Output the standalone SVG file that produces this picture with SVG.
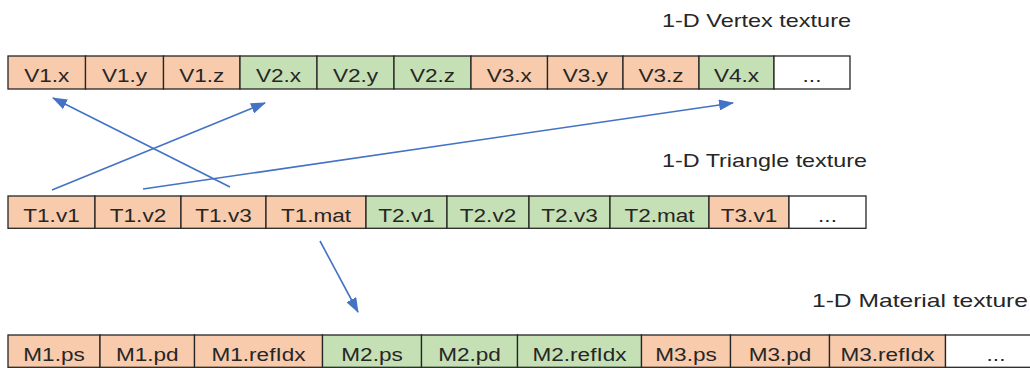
<svg xmlns="http://www.w3.org/2000/svg" width="1030" height="368" viewBox="0 0 1030 368">
<style>
.o{fill:#F8CBAD;stroke:#262626;stroke-width:1.3}
.g{fill:#C5E0B4;stroke:#262626;stroke-width:1.3}
.w{fill:#FFFFFF;stroke:#262626;stroke-width:1.3}
text{font-family:"Liberation Sans",Arial,sans-serif;font-size:18.5px;fill:#262626}
.c{text-anchor:middle}
.t{font-size:18.5px;fill:#262626}
.arr{stroke:#4472C4;stroke-width:1.6;fill:none;marker-end:url(#ah)}
</style>
<defs>
<marker id="ah" markerUnits="userSpaceOnUse" markerWidth="15" markerHeight="11" refX="14" refY="5.5" orient="auto" viewBox="0 0 15 11">
<path d="M0,0 L15,5.5 L0,11 z" fill="#4472C4"/>
</marker>
</defs>
<rect width="1030" height="368" fill="#FFFFFF"/>

<g id="vertex-title"><text class="t" x="662" y="27" textLength="189" lengthAdjust="spacingAndGlyphs">1-D Vertex texture</text></g>
<g id="triangle-title"><text class="t" x="662" y="167" textLength="205" lengthAdjust="spacingAndGlyphs">1-D Triangle texture</text></g>
<g id="material-title"><text class="t" x="812" y="307" textLength="216" lengthAdjust="spacingAndGlyphs">1-D Material texture</text></g>

<g id="vertex-texture">
<g id="V1x"><rect class="o" x="8" y="56" width="77.5" height="33"/><text class="c" transform="translate(46.8,81.7) scale(1.22,1)">V1.x</text></g>
<g id="V1y"><rect class="o" x="85.5" y="56" width="78" height="33"/><text class="c" transform="translate(124.5,81.7) scale(1.22,1)">V1.y</text></g>
<g id="V1z"><rect class="o" x="163.5" y="56" width="76.5" height="33"/><text class="c" transform="translate(201.8,81.7) scale(1.22,1)">V1.z</text></g>
<g id="V2x"><rect class="g" x="240" y="56" width="77" height="33"/><text class="c" transform="translate(278.5,81.7) scale(1.22,1)">V2.x</text></g>
<g id="V2y"><rect class="g" x="317" y="56" width="77" height="33"/><text class="c" transform="translate(355.5,81.7) scale(1.22,1)">V2.y</text></g>
<g id="V2z"><rect class="g" x="394" y="56" width="77" height="33"/><text class="c" transform="translate(432.5,81.7) scale(1.22,1)">V2.z</text></g>
<g id="V3x"><rect class="o" x="471" y="56" width="76.5" height="33"/><text class="c" transform="translate(509.3,81.7) scale(1.22,1)">V3.x</text></g>
<g id="V3y"><rect class="o" x="547.5" y="56" width="75.5" height="33"/><text class="c" transform="translate(585.3,81.7) scale(1.22,1)">V3.y</text></g>
<g id="V3z"><rect class="o" x="623" y="56" width="76" height="33"/><text class="c" transform="translate(661,81.7) scale(1.22,1)">V3.z</text></g>
<g id="V4x"><rect class="g" x="699" y="56" width="75" height="33"/><text class="c" transform="translate(736.5,81.7) scale(1.22,1)">V4.x</text></g>
<g id="Vmore"><rect class="w" x="774" y="56" width="76" height="33"/><text class="c" transform="translate(812,81.7) scale(1.22,1)">...</text></g>
</g>

<g id="triangle-texture">
<g id="T1v1"><rect class="o" x="8" y="196" width="87" height="32.3"/><text class="c" transform="translate(51.5,221.7) scale(1.22,1)">T1.v1</text></g>
<g id="T1v2"><rect class="o" x="95" y="196" width="86" height="32.3"/><text class="c" transform="translate(138,221.7) scale(1.22,1)">T1.v2</text></g>
<g id="T1v3"><rect class="o" x="181" y="196" width="85" height="32.3"/><text class="c" transform="translate(223.5,221.7) scale(1.22,1)">T1.v3</text></g>
<g id="T1mat"><rect class="o" x="266" y="196" width="100" height="32.3"/><text class="c" transform="translate(316,221.7) scale(1.22,1)">T1.mat</text></g>
<g id="T2v1"><rect class="g" x="366" y="196" width="81" height="32.3"/><text class="c" transform="translate(406.5,221.7) scale(1.22,1)">T2.v1</text></g>
<g id="T2v2"><rect class="g" x="447" y="196" width="82" height="32.3"/><text class="c" transform="translate(488,221.7) scale(1.22,1)">T2.v2</text></g>
<g id="T2v3"><rect class="g" x="529" y="196" width="81" height="32.3"/><text class="c" transform="translate(569.5,221.7) scale(1.22,1)">T2.v3</text></g>
<g id="T2mat"><rect class="g" x="610" y="196" width="99" height="32.3"/><text class="c" transform="translate(659.5,221.7) scale(1.22,1)">T2.mat</text></g>
<g id="T3v1"><rect class="o" x="709" y="196" width="80" height="32.3"/><text class="c" transform="translate(749,221.7) scale(1.22,1)">T3.v1</text></g>
<g id="Tmore"><rect class="w" x="789" y="196" width="77" height="32.3"/><text class="c" transform="translate(827.5,221.7) scale(1.22,1)">...</text></g>
</g>

<g id="material-texture">
<g id="M1ps"><rect class="o" x="8" y="335" width="92" height="32.3"/><text class="c" transform="translate(54,360.7) scale(1.22,1)">M1.ps</text></g>
<g id="M1pd"><rect class="o" x="100" y="335" width="94.5" height="32.3"/><text class="c" transform="translate(147.3,360.7) scale(1.22,1)">M1.pd</text></g>
<g id="M1refIdx"><rect class="o" x="194.5" y="335" width="128" height="32.3"/><text class="c" transform="translate(258.5,360.7) scale(1.22,1)">M1.refIdx</text></g>
<g id="M2ps"><rect class="g" x="322.5" y="335" width="99" height="32.3"/><text class="c" transform="translate(372,360.7) scale(1.22,1)">M2.ps</text></g>
<g id="M2pd"><rect class="g" x="421.5" y="335" width="96" height="32.3"/><text class="c" transform="translate(469.5,360.7) scale(1.22,1)">M2.pd</text></g>
<g id="M2refIdx"><rect class="g" x="517.5" y="335" width="124" height="32.3"/><text class="c" transform="translate(579.5,360.7) scale(1.22,1)">M2.refIdx</text></g>
<g id="M3ps"><rect class="o" x="641.5" y="335" width="89" height="32.3"/><text class="c" transform="translate(686,360.7) scale(1.22,1)">M3.ps</text></g>
<g id="M3pd"><rect class="o" x="730.5" y="335" width="99" height="32.3"/><text class="c" transform="translate(780,360.7) scale(1.22,1)">M3.pd</text></g>
<g id="M3refIdx"><rect class="o" x="829.5" y="335" width="116" height="32.3"/><text class="c" transform="translate(887.5,360.7) scale(1.22,1)">M3.refIdx</text></g>
<g id="Mmore"><rect class="w" x="945.5" y="335" width="90" height="32.3"/><text class="c" transform="translate(996,360.7) scale(1.22,1)">...</text></g>
</g>

<g id="connectors">
<line class="arr" x1="230" y1="187" x2="53" y2="98"/>
<line class="arr" x1="52" y1="190" x2="265" y2="103"/>
<line class="arr" x1="143" y1="189" x2="733" y2="103"/>
<line class="arr" x1="320" y1="241" x2="358" y2="312"/>
</g>
</svg>
